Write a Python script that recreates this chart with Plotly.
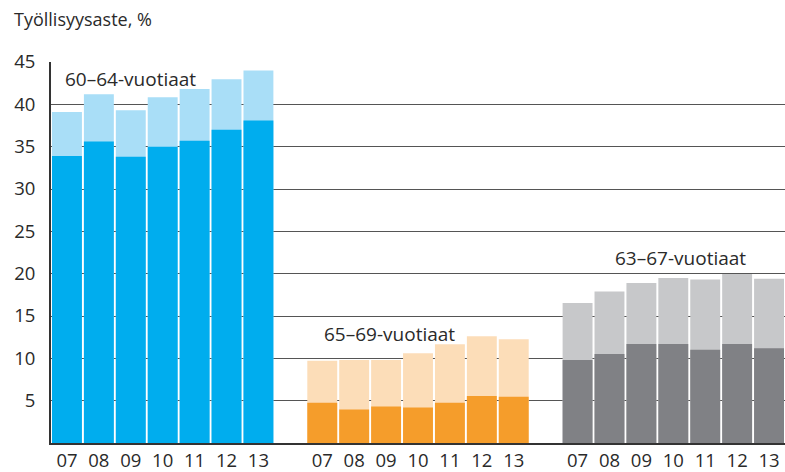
import plotly.graph_objects as go

years = ["07", "08", "09", "10", "11", "12", "13"]

# Group 60–64
g1_total = [39.1, 41.2, 39.3, 40.85, 41.8, 42.95, 44.0]
g1_part = [33.9, 35.6, 33.8, 35.0, 35.7, 37.0, 38.1]
# Group 65–69
g2_total = [9.7, 9.8, 9.8, 10.6, 11.65, 12.6, 12.25]
g2_part = [4.75, 3.95, 4.3, 4.2, 4.75, 5.55, 5.45]
# Group 63–67
g3_total = [16.55, 17.9, 18.9, 19.5, 19.3, 19.95, 19.4]
g3_part = [9.8, 10.5, 11.7, 11.7, 11.0, 11.7, 11.2]

group_labels = ["60–64-vuotiaat", "65–69-vuotiaat", "63–67-vuotiaat"]
y_ticks = [5, 10, 15, 20, 25, 30, 35, 40, 45]

groups = [
    (g1_total, g1_part, "#A9DEF7", "#00ADEE"),
    (g2_total, g2_part, "#FCDDB8", "#F59D2B"),
    (g3_total, g3_part, "#C7C8CA", "#808185"),
]

FONT = "Open Sans"
TXT = "#2a2a2a"
fig = go.Figure()
tickvals, ticktext = [], []
for gi, (tot, part, lc, dc) in enumerate(groups):
    xs = [gi * 8 + i for i in range(len(years))]
    tickvals += xs
    ticktext += years
    fig.add_trace(go.Bar(x=xs, y=tot, marker=dict(color=lc, line=dict(width=0)),
                         width=0.9375, showlegend=False, hoverinfo="skip"))
    fig.add_trace(go.Bar(x=xs, y=part, marker=dict(color=dc, line=dict(width=0)),
                         width=0.9375, showlegend=False, hoverinfo="skip"))

fig.add_annotation(x=-0.12, y=43.0, text=group_labels[0], showarrow=False,
                   xanchor="left", yanchor="middle", font=dict(size=19, color=TXT))
fig.add_annotation(x=7.98, y=12.9, text=group_labels[1], showarrow=False,
                   xanchor="left", yanchor="middle", font=dict(size=19, color=TXT))
fig.add_annotation(x=19.22, y=21.9, text=group_labels[2], showarrow=False,
                   xanchor="center", yanchor="middle", font=dict(size=19, color=TXT))

fig.add_annotation(x=(12 - 51) / 734, y=(447 - 19) / 385, xref="paper", yref="paper",
                   text="Työllisyysaste, %", showarrow=False,
                   xanchor="left", yanchor="middle", font=dict(size=18, color=TXT))

fig.update_layout(
    width=785, height=472,
    margin=dict(l=51, r=0, t=62, b=25, pad=0),
    barmode="overlay",
    plot_bgcolor="white", paper_bgcolor="white",
    font=dict(family=FONT, size=18, color=TXT),
)

fig.update_xaxes(range=[-0.5, 22.5], tickvals=tickvals, ticktext=ticktext,
                 showline=True, linecolor="#333", linewidth=2, showgrid=False,
                 ticks="", tickfont=dict(size=18.5, color=TXT), fixedrange=True,
                 ticklabeloverflow="allow")
fig.update_yaxes(range=[0, 45], tickvals=y_ticks, showgrid=True, gridcolor="#555",
                 gridwidth=1, showline=True, linecolor="#333", linewidth=2,
                 zeroline=False, ticks="", ticklabelstandoff=10,
                 tickfont=dict(size=18.5, color=TXT), fixedrange=True)

fig.write_html("out.html", config={"displayModeBar": False},
               post_script="document.body.style.margin='0';document.body.style.overflow='hidden';")
